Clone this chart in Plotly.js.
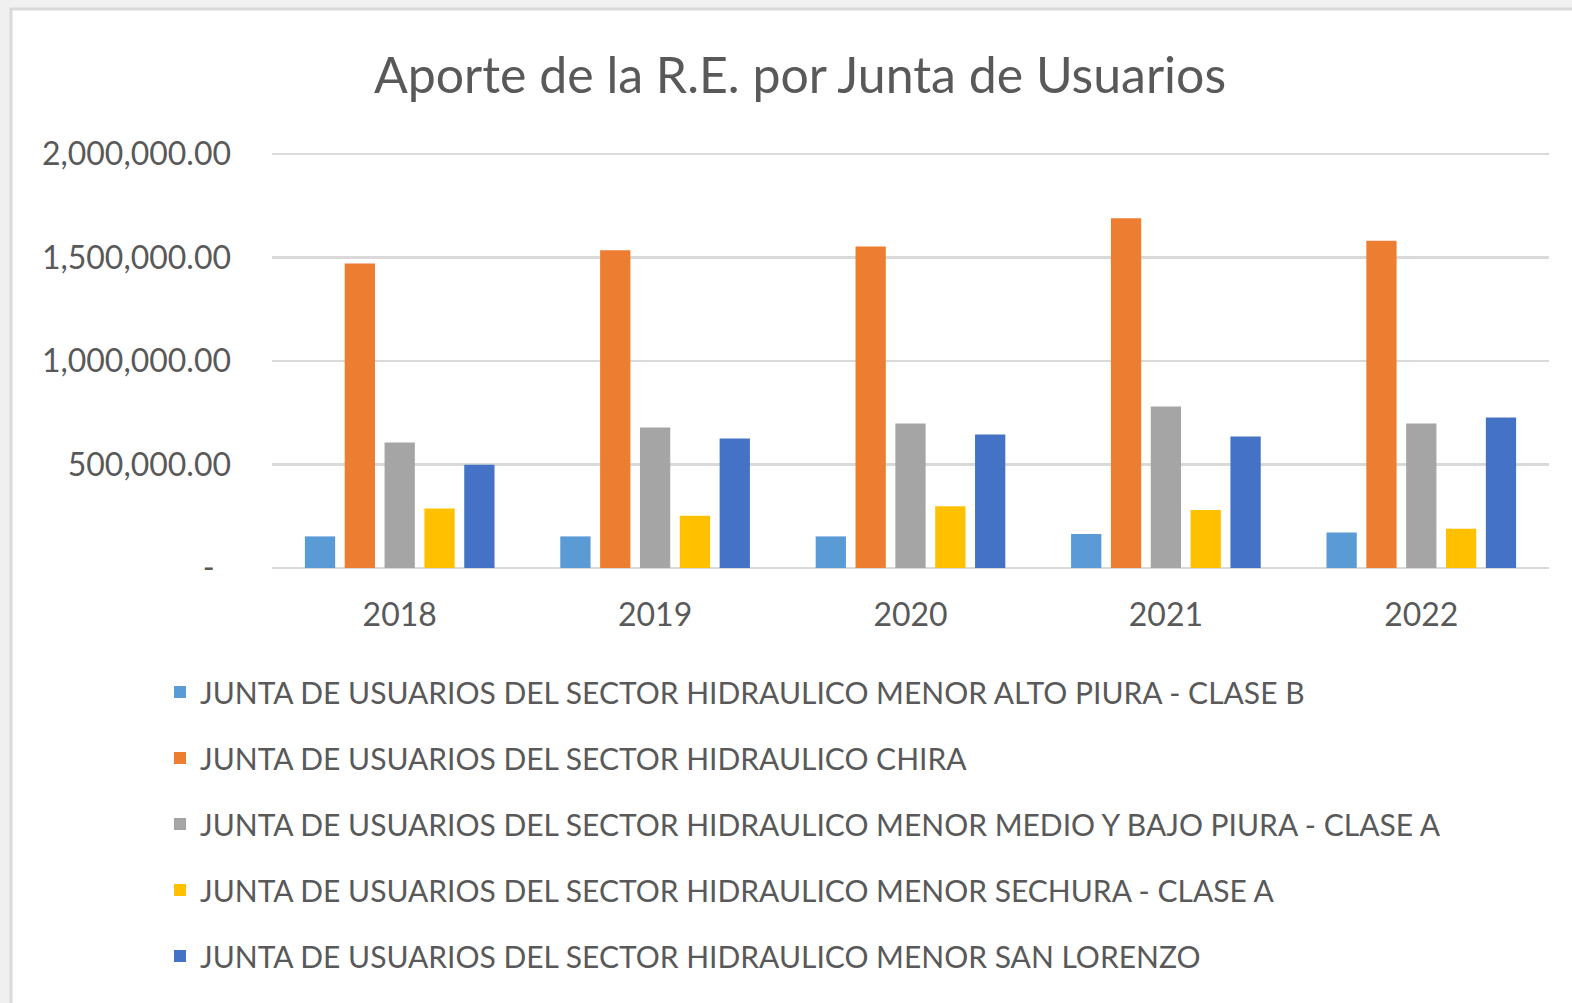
<!DOCTYPE html>
<html>
<head>
<meta charset="utf-8">
<script src="https://cdn.plot.ly/plotly-3.0.1.min.js"></script>
<style>
  html, body { margin: 0; padding: 0; background: #f0f0f0; overflow: hidden; }
  #chart { width: 1572px; height: 1003px; }
</style>
</head>
<body>
<div id="chart"></div>
<script>
// ---- Data ----
var years = ['2018', '2019', '2020', '2021', '2022'];
var seriesNames = [
  'JUNTA DE USUARIOS DEL SECTOR HIDRAULICO MENOR ALTO PIURA - CLASE B',
  'JUNTA DE USUARIOS DEL SECTOR HIDRAULICO CHIRA',
  'JUNTA DE USUARIOS DEL SECTOR HIDRAULICO MENOR MEDIO Y BAJO PIURA - CLASE A',
  'JUNTA DE USUARIOS DEL SECTOR HIDRAULICO MENOR SECHURA - CLASE A',
  'JUNTA DE USUARIOS DEL SECTOR HIDRAULICO MENOR SAN LORENZO'
];
var altoPiura      = [152700, 152700, 152700, 164000, 172000];
var chira          = [1472000, 1536000, 1554000, 1690000, 1582000];
var medioBajoPiura = [606000, 679000, 698000, 780000, 698000];
var sechura        = [288000, 252500, 299000, 280000, 190000];
var sanLorenzo     = [498500, 625500, 645000, 635000, 727000];
var yTickVals   = [0, 500000, 1000000, 1500000, 2000000];
var yTickLabels = ['-\u00a0\u00a0', '500,000.00', '1,000,000.00', '1,500,000.00', '2,000,000.00'];
var colors = ['#5B9BD5', '#ED7D31', '#A5A5A5', '#FFC000', '#4472C4'];
var titleText = 'Aporte de la R.E. por Junta de Usuarios';

// ---- Chart ----
var W = 1572, H = 1003;
var mL = 272, mR = 23, mT = 150, mB = 435;
var pw = W - mL - mR, ph = H - mT - mB;
function px2x(p) { return (p - mL) / pw; }
function py2y(p) { return (H - mB - p) / ph; }

var allSeries = [altoPiura, chira, medioBajoPiura, sechura, sanLorenzo];
var traces = allSeries.map(function (vals, i) {
  return {
    type: 'bar',
    name: seriesNames[i],
    x: years,
    y: vals,
    marker: { color: colors[i] },
    legendgroup: 'g' + i,
    hoverinfo: 'x+y+name'
  };
});

var font = 'Lato, "Open Sans", sans-serif';
var layout = {
  width: W, height: H,
  margin: { l: mL, r: mR, t: mT, b: mB, pad: 0, autoexpand: false },
  paper_bgcolor: '#f0f0f0',
  plot_bgcolor: 'rgba(0,0,0,0)',
  font: { family: font, color: '#595959' },
  title: {
    text: titleText,
    font: { family: font, size: 50, color: '#595959' },
    x: 800 / W, xref: 'container', xanchor: 'center',
    y: 1 - 75 / H, yref: 'container', yanchor: 'middle'
  },
  barmode: 'group',
  bargap: 0.22,
  bargroupgap: 0.24,
  xaxis: {
    type: 'category',
    showline: false, showgrid: false, zeroline: false,
    ticks: '',
    tickangle: 0,
    tickfont: { family: font, size: 32, color: '#595959' },
    ticklabelstandoff: 25
  },
  yaxis: {
    range: [0, 2020000],
    tickvals: yTickVals, ticktext: yTickLabels,
    showgrid: true, gridcolor: '#d9d9d9', gridwidth: 2.5,
    zeroline: true, zerolinecolor: '#d9d9d9', zerolinewidth: 2.5,
    showline: false, ticks: '',
    tickfont: { family: font, size: 32, color: '#595959' },
    ticklabelstandoff: 40
  },
  legend: {
    orientation: 'v',
    xref: 'container', x: 160 / W, xanchor: 'left',
    yref: 'container', y: 1 - 666 / H, yanchor: 'top',
    font: { family: font, size: 30, color: '#595959' },
    tracegroupgap: 24,
    bgcolor: 'rgba(0,0,0,0)',
    traceorder: 'grouped'
  },
  showlegend: true,
  shapes: [{
    type: 'rect', layer: 'below',
    xref: 'paper', yref: 'paper',
    x0: px2x(11), x1: px2x(1700),
    y0: py2y(9), y1: py2y(1200),
    fillcolor: '#ffffff',
    line: { color: '#d9d9d9', width: 3 }
  }]
};

Plotly.newPlot('chart', traces, layout, { displayModeBar: false, staticPlot: true });
</script>
</body>
</html>
